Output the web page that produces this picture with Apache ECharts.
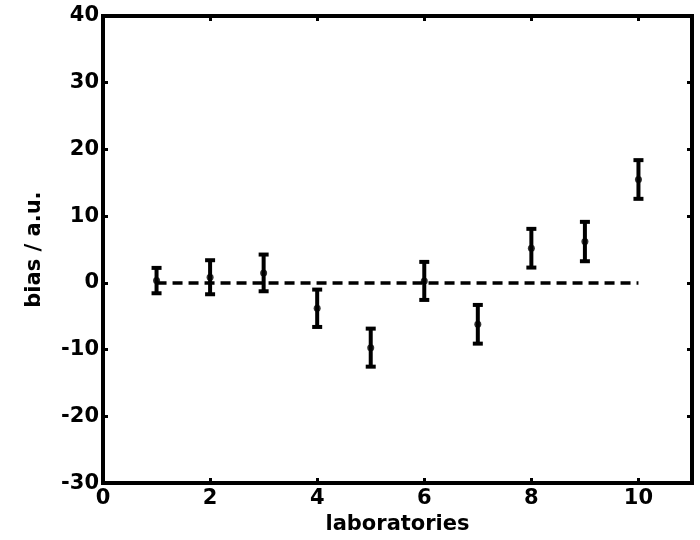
<!DOCTYPE html>
<html>
<head>
<meta charset="utf-8">
<script src="https://cdn.jsdelivr.net/npm/echarts@6/dist/echarts.min.js"></script>
<style>html,body{margin:0;padding:0;background:#fff}#c{width:700px;height:540px}</style>
</head>
<body>
<div id="c"></div>
<script>
var labs = [1, 2, 3, 4, 5, 6, 7, 8, 9, 10];
var bias = [0.35, 0.85, 1.5, -3.8, -9.7, 0.3, -6.2, 5.2, 6.2, 15.5];
var unc = [1.9, 2.55, 2.75, 2.8, 2.85, 2.85, 2.9, 2.9, 2.95, 2.9];
var refLine = [[1, 0], [10, 0]];
var xTicks = [0, 2, 4, 6, 8, 10];
var yTicks = [-30, -20, -10, 0, 10, 20, 30, 40];

var FONT = 'DejaVu Sans';
var chart = echarts.init(document.getElementById('c'), null, {renderer: 'canvas'});

var errData = labs.map(function (x, i) { return [x, bias[i] - unc[i], bias[i] + unc[i]]; });
var ptData = labs.map(function (x, i) { return [x, bias[i]]; });

var axisLine = {show: true, onZero: false, lineStyle: {color: '#000', width: 4, cap: 'square'}};
var tickStyle = {show: true, inside: true, length: 5, lineStyle: {color: '#000', width: 3}};

chart.setOption({
  animation: false,
  grid: {left: 103, right: 8, top: 16, bottom: 56, containLabel: false},
  xAxis: [{
    type: 'value', min: 0, max: 11, interval: 2, position: 'bottom',
    name: 'laboratories', nameLocation: 'middle', nameGap: 27,
    nameTextStyle: {fontFamily: FONT, fontWeight: 'bold', fontSize: 21, color: '#000'},
    axisLine: axisLine, axisTick: tickStyle, splitLine: {show: false},
    axisLabel: {fontFamily: FONT, fontWeight: 'bold', fontSize: 21, color: '#000', margin: 5,
      showMaxLabel: false,
      formatter: function (v) { return xTicks.indexOf(v) >= 0 ? String(v) : ''; }}
  }, {
    type: 'value', min: 0, max: 11, interval: 2, position: 'top',
    axisLine: axisLine, axisTick: tickStyle, splitLine: {show: false}, axisLabel: {show: false}
  }],
  yAxis: [{
    type: 'value', min: -30, max: 40, interval: 10, position: 'left',
    name: 'bias / a.u.', nameLocation: 'middle', nameGap: 58, nameRotate: 90,
    nameTextStyle: {fontFamily: FONT, fontWeight: 'bold', fontSize: 21, color: '#000'},
    axisLine: axisLine, axisTick: tickStyle, splitLine: {show: false},
    axisLabel: {fontFamily: FONT, fontWeight: 'bold', fontSize: 21, color: '#000', margin: 4,
      formatter: function (v) { return yTicks.indexOf(v) >= 0 ? String(v) : ''; }}
  }, {
    type: 'value', min: -30, max: 40, interval: 10, position: 'right',
    axisLine: axisLine, axisTick: tickStyle, splitLine: {show: false}, axisLabel: {show: false}
  }],
  series: [{
    type: 'line', data: refLine, symbol: 'none', silent: true,
    lineStyle: {color: '#000', width: 3.5, type: [10, 6]}, z: 2
  }, {
    type: 'custom', data: errData, z: 3,
    renderItem: function (params, api) {
      var x = api.value(0);
      var lo = api.coord([x, api.value(1)]);
      var hi = api.coord([x, api.value(2)]);
      var hw = 5;
      var st = {stroke: '#000', lineWidth: 4};
      return {type: 'group', children: [
        {type: 'line', shape: {x1: lo[0], y1: lo[1], x2: hi[0], y2: hi[1]}, style: st},
        {type: 'line', shape: {x1: lo[0] - hw, y1: lo[1], x2: lo[0] + hw, y2: lo[1]}, style: st},
        {type: 'line', shape: {x1: hi[0] - hw, y1: hi[1], x2: hi[0] + hw, y2: hi[1]}, style: st}
      ]};
    }
  }, {
    type: 'scatter', data: ptData, symbol: 'circle', symbolSize: 7, z: 4,
    itemStyle: {color: '#000'}
  }]
});
</script>
</body>
</html>
